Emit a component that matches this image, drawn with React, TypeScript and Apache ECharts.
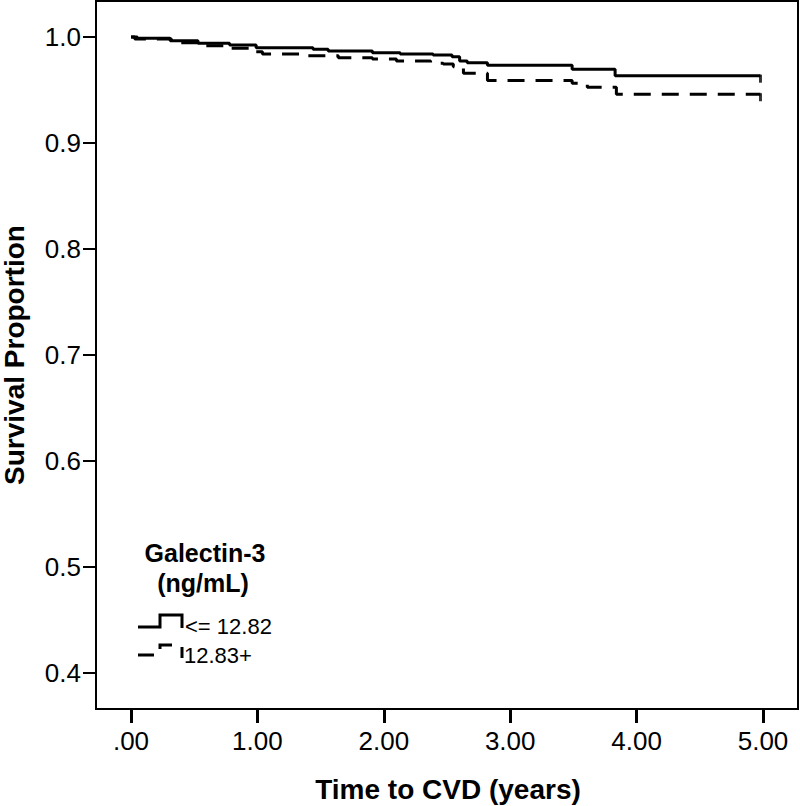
import React, { useEffect, useRef } from "react";
import * as echarts from "echarts";

// Kaplan–Meier steps
const solidTimes = [0, 0.05, 0.31, 0.53, 0.78, 0.99, 1.44, 1.56, 1.91, 2.13, 2.39, 2.54, 2.6, 2.66, 2.82, 3.49, 3.83, 4.98];
const solidSurv = [1.0, 0.9988, 0.9965, 0.9941, 0.9925, 0.9899, 0.9884, 0.9868, 0.9852, 0.984, 0.983, 0.9814, 0.9774, 0.9758, 0.9733, 0.9695, 0.9635, 0.9635];

const dashedTimes = [0, 0.03, 0.32, 0.56, 0.77, 0.98, 1.04, 1.4, 1.64, 1.91, 2.1, 2.37, 2.47, 2.55, 2.63, 2.82, 3.49, 3.61, 3.84, 4.98];
const dashedSurv = [1.0, 0.998, 0.9946, 0.9918, 0.9893, 0.9861, 0.984, 0.9824, 0.9805, 0.9792, 0.9774, 0.9752, 0.9745, 0.972, 0.9658, 0.959, 0.9563, 0.9525, 0.946, 0.946];

const censorSolid = [[4.98, 0.9635]];
const censorDashed = [[4.98, 0.946]];

const xTicks = [0, 1, 2, 3, 4, 5];
const yTicks = [0.4, 0.5, 0.6, 0.7, 0.8, 0.9, 1.0];
const X_MIN = -0.2769;
const X_MAX = 5.2769;
const Y_MIN = 0.36604;
const Y_MAX = 1.03396;

const legendTitle = ["Galectin-3", "(ng/mL)"];
const groupNames = ["<= 12.82", "12.83+"];
const xTitle = "Time to CVD (years)";
const yTitle = "Survival Proportion";

const FONT = "'Liberation Sans', Arial, Helvetica, sans-serif";

export default function App() {
  const ref = useRef<HTMLDivElement>(null);

  useEffect(() => {
    document.body.style.margin = "0";
    if (!ref.current) return;
    const chart = echarts.init(ref.current, null, { renderer: "svg" });

    const solidData = solidTimes.map((t, i) => [t, solidSurv[i]]);
    const dashedData = dashedTimes.map((t, i) => [t, dashedSurv[i]]);

    const graphic: any[] = [
      {
        type: "rect",
        shape: { x: 96, y: 1, width: 702, height: 708 },
        style: { fill: "none", stroke: "#000", lineWidth: 2 },
        silent: true,
      },
      {
        type: "text",
        x: 448,
        y: 789,
        style: {
          text: xTitle,
          fontFamily: FONT,
          fontWeight: "bold",
          fontSize: 28,
          fill: "#000",
          align: "center",
          verticalAlign: "middle",
        },
      },
      {
        type: "text",
        x: 14,
        y: 355,
        rotation: Math.PI / 2,
        style: {
          text: yTitle,
          fontFamily: FONT,
          fontWeight: "bold",
          fontSize: 28,
          fill: "#000",
          align: "center",
          verticalAlign: "middle",
        },
      },
      {
        type: "text",
        x: 205,
        y: 553,
        style: {
          text: legendTitle[0],
          fontFamily: FONT,
          fontWeight: "bold",
          fontSize: 25,
          fill: "#000",
          align: "center",
          verticalAlign: "middle",
        },
      },
      {
        type: "text",
        x: 203,
        y: 583,
        style: {
          text: legendTitle[1],
          fontFamily: FONT,
          fontWeight: "bold",
          fontSize: 25,
          fill: "#000",
          align: "center",
          verticalAlign: "middle",
        },
      },
      {
        type: "polyline",
        shape: { points: [[138, 627], [160, 627], [160, 615], [182, 615], [182, 628]] },
        style: { stroke: "#000", lineWidth: 3, fill: "none" },
      },
      {
        type: "text",
        x: 185,
        y: 626,
        style: {
          text: groupNames[0],
          fontFamily: FONT,
          fontSize: 22,
          fill: "#000",
          align: "left",
          verticalAlign: "middle",
        },
      },
      {
        type: "polyline",
        shape: { points: [[138, 655], [160, 655], [160, 645], [182, 645], [182, 658]] },
        style: { stroke: "#000", lineWidth: 3, fill: "none", lineDash: [16, 12] },
      },
      {
        type: "text",
        x: 184,
        y: 655,
        style: {
          text: groupNames[1],
          fontFamily: FONT,
          fontSize: 22,
          fill: "#000",
          align: "left",
          verticalAlign: "middle",
        },
      },
    ];

    chart.setOption({
      animation: false,
      backgroundColor: "#ffffff",
      grid: { left: 96, top: 1, width: 702, height: 708, containLabel: false },
      xAxis: {
        type: "value",
        position: "bottom",
        min: X_MIN,
        max: X_MAX,
        axisLine: { show: true, onZero: false, lineStyle: { color: "#000", width: 2 } },
        axisTick: {
          show: true,
          length: 14,
          customValues: xTicks,
          lineStyle: { color: "#000", width: 3 },
        },
        splitLine: { show: false },
        axisLabel: {
          customValues: xTicks,
          margin: 19,
          color: "#000",
          fontFamily: FONT,
          fontSize: 26,
          formatter: (v: number) => (Math.abs(v) < 1e-9 ? ".00" : v.toFixed(2)),
        },
      },
      yAxis: {
        type: "value",
        position: "left",
        min: Y_MIN,
        max: Y_MAX,
        axisLine: { show: true, onZero: false, lineStyle: { color: "#000", width: 2 } },
        axisTick: {
          show: true,
          length: 13,
          customValues: yTicks,
          lineStyle: { color: "#000", width: 2 },
        },
        splitLine: { show: false },
        axisLabel: {
          customValues: yTicks,
          margin: 15,
          color: "#000",
          fontFamily: FONT,
          fontSize: 26,
          formatter: (v: number) => v.toFixed(1),
        },
      },
      series: [
        {
          type: "line",
          step: "end",
          data: solidData,
          showSymbol: false,
          symbol: "none",
          lineStyle: { color: "#000", width: 3 },
        },
        {
          type: "line",
          step: "end",
          data: dashedData,
          showSymbol: false,
          symbol: "none",
          lineStyle: { color: "#000", width: 3, type: [17, 11] },
        },
        {
          type: "scatter",
          data: censorSolid,
          symbol: "rect",
          symbolSize: [3, 8],
          symbolOffset: [0, 3],
          itemStyle: { color: "#000" },
        },
        {
          type: "scatter",
          data: censorDashed,
          symbol: "rect",
          symbolSize: [3, 8],
          symbolOffset: [0, 3],
          itemStyle: { color: "#000" },
        },
      ],
      graphic,
    });

    return () => chart.dispose();
  }, []);

  return <div ref={ref} style={{ width: 800, height: 806 }} />;
}
